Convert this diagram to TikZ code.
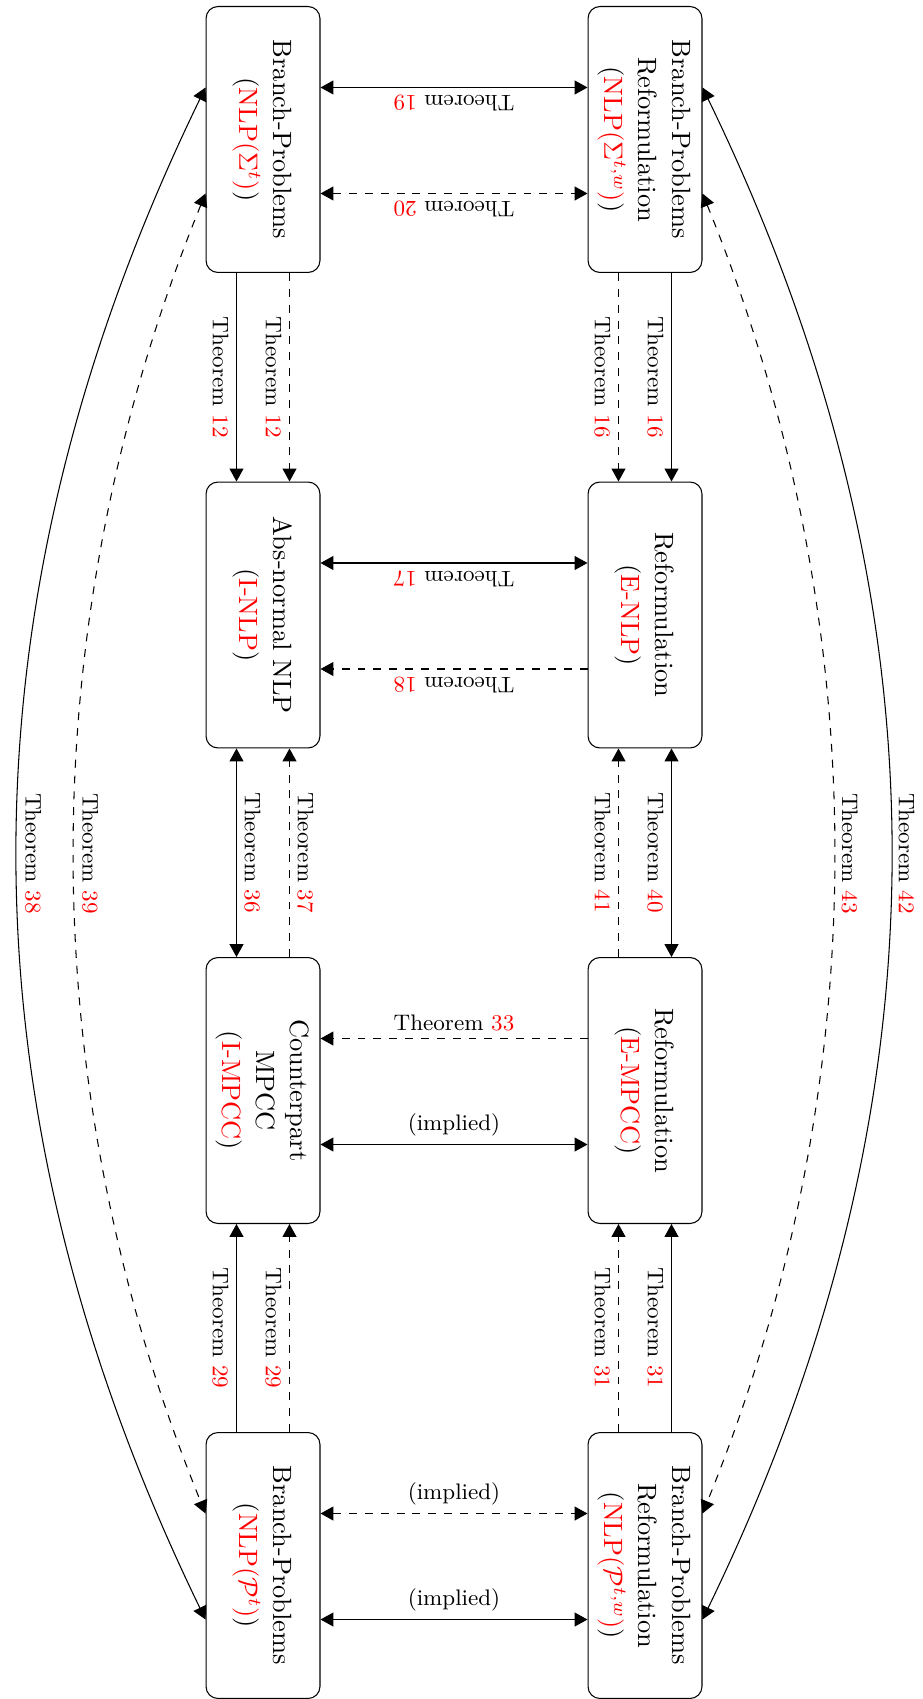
\documentclass[tikz,border=0pt]{standalone}
\usepackage{graphicx}
\usetikzlibrary{arrows.meta,calc}
\newcommand{\rd}[1]{\textcolor{red}{#1}}
\newcommand{\bt}[1]{\rotatebox{-90}{\fontsize{10}{12.8}\selectfont\begin{tabular}{@{}c@{}}#1\end{tabular}}}
\begin{document}
\begin{tikzpicture}[x=0.3783pt,y=-0.3783pt,
  >={Triangle[length=4.9pt,width=5.3pt]},
  box/.style={draw, rounded corners=4.5pt, minimum width=43.1pt, minimum height=100.6pt, inner sep=0pt},
  lab/.style={font=\fontsize{8.5}{10}\selectfont, inner sep=2.8pt},
  ]
\useasboundingbox (0,0) rectangle (923,1699);
% boxes
\node[box] (a1) at (263,139.5) {\bt{Branch-Problems\\(\rd{NLP($\Sigma^t$)})}};
\node[box] (b1) at (645,139.5) {\bt{Branch-Problems\\Reformulation\\(\rd{NLP($\Sigma^{t,w}$)})}};
\node[box] (a2) at (263,615) {\bt{Abs-normal NLP\\(\rd{I-NLP})}};
\node[box] (b2) at (645,615) {\bt{Reformulation\\(\rd{E-NLP})}};
\node[box] (a3) at (263,1090.5) {\bt{Counterpart\\MPCC\\(\rd{I-MPCC})}};
\node[box] (b3) at (645,1090.5) {\bt{Reformulation\\(\rd{E-MPCC})}};
\node[box] (a4) at (263,1565.5) {\bt{Branch-Problems\\(\rd{NLP($\mathcal{P}^t$)})}};
\node[box] (b4) at (645,1565.5) {\bt{Branch-Problems\\Reformulation\\(\rd{NLP($\mathcal{P}^{t,w}$)})}};
% row 1 horizontal
\draw[<->] ($(a1.east)+(0,-52)$) -- node[lab,rotate=180,anchor=south]{Theorem \rd{19}} ($(b1.west)+(0,-52)$);
\draw[<->,dashed] ($(a1.east)+(0,54)$) -- node[lab,rotate=180,anchor=south]{Theorem \rd{20}} ($(b1.west)+(0,54)$);
% row 2 horizontal
\draw[<->] ($(a2.east)+(0,-52)$) -- node[lab,rotate=180,anchor=south]{Theorem \rd{17}} ($(b2.west)+(0,-52)$);
\draw[->,dashed] ($(b2.west)+(0,54)$) -- node[lab,rotate=180,anchor=south]{Theorem \rd{18}} ($(a2.east)+(0,54)$);
% row 3 horizontal
\draw[->,dashed] ($(b3.west)+(0,-52)$) -- node[lab,anchor=south]{Theorem \rd{33}} ($(a3.east)+(0,-52)$);
\draw[<->] ($(a3.east)+(0,54)$) -- node[lab,anchor=south]{(implied)} ($(b3.west)+(0,54)$);
% row 4 horizontal
\draw[<->,dashed] ($(a4.east)+(0,-52)$) -- node[lab,anchor=south]{(implied)} ($(b4.west)+(0,-52)$);
\draw[<->] ($(a4.east)+(0,54)$) -- node[lab,anchor=south]{(implied)} ($(b4.west)+(0,54)$);
% rows 1-2 vertical
\draw[->] ($(a1.south)+(-26.5,0)$) -- node[lab,rotate=-90,anchor=north]{Theorem \rd{12}} ($(a2.north)+(-26.5,0)$);
\draw[->,dashed] ($(a1.south)+(26.5,0)$) -- node[lab,rotate=-90,anchor=north]{Theorem \rd{12}} ($(a2.north)+(26.5,0)$);
\draw[->,dashed] ($(b1.south)+(-26.5,0)$) -- node[lab,rotate=-90,anchor=north]{Theorem \rd{16}} ($(b2.north)+(-26.5,0)$);
\draw[->] ($(b1.south)+(26.5,0)$) -- node[lab,rotate=-90,anchor=north]{Theorem \rd{16}} ($(b2.north)+(26.5,0)$);
% rows 2-3 vertical
\draw[<->] ($(a2.south)+(-26.5,0)$) -- node[lab,rotate=-90,anchor=south]{Theorem \rd{36}} ($(a3.north)+(-26.5,0)$);
\draw[->,dashed] ($(a3.north)+(26.5,0)$) -- node[lab,rotate=-90,anchor=south]{Theorem \rd{37}} ($(a2.south)+(26.5,0)$);
\draw[->,dashed] ($(b3.north)+(-26.5,0)$) -- node[lab,rotate=-90,anchor=north]{Theorem \rd{41}} ($(b2.south)+(-26.5,0)$);
\draw[<->] ($(b2.south)+(26.5,0)$) -- node[lab,rotate=-90,anchor=north]{Theorem \rd{40}} ($(b3.north)+(26.5,0)$);
% rows 3-4 vertical
\draw[->] ($(a4.north)+(-26.5,0)$) -- node[lab,rotate=-90,anchor=north]{Theorem \rd{29}} ($(a3.south)+(-26.5,0)$);
\draw[->,dashed] ($(a4.north)+(26.5,0)$) -- node[lab,rotate=-90,anchor=north]{Theorem \rd{29}} ($(a3.south)+(26.5,0)$);
\draw[->,dashed] ($(b4.north)+(-26.5,0)$) -- node[lab,rotate=-90,anchor=north]{Theorem \rd{31}} ($(b3.south)+(-26.5,0)$);
\draw[->] ($(b4.north)+(26.5,0)$) -- node[lab,rotate=-90,anchor=north]{Theorem \rd{31}} ($(b3.south)+(26.5,0)$);
% outer curves
\draw[<->] ($(a1.west)+(0,-52)$) .. controls +(-251,517) and +(-251,-517) .. ($(a4.west)+(0,54)$) node[pos=0.5,lab,rotate=-90,anchor=south]{Theorem \rd{38}};
\draw[<->,dashed] ($(a1.west)+(0,54)$) .. controls +(-175,430) and +(-175,-430) .. ($(a4.west)+(0,-52)$) node[pos=0.5,lab,rotate=-90,anchor=south]{Theorem \rd{39}};
\draw[<->,dashed] ($(b1.east)+(0,54)$) .. controls +(175,430) and +(175,-430) .. ($(b4.east)+(0,-52)$) node[pos=0.5,lab,rotate=-90,anchor=south]{Theorem \rd{43}};
\draw[<->] ($(b1.east)+(0,-52)$) .. controls +(251,517) and +(251,-517) .. ($(b4.east)+(0,54)$) node[pos=0.5,lab,rotate=-90,anchor=south]{Theorem \rd{42}};
\end{tikzpicture}
\end{document}
